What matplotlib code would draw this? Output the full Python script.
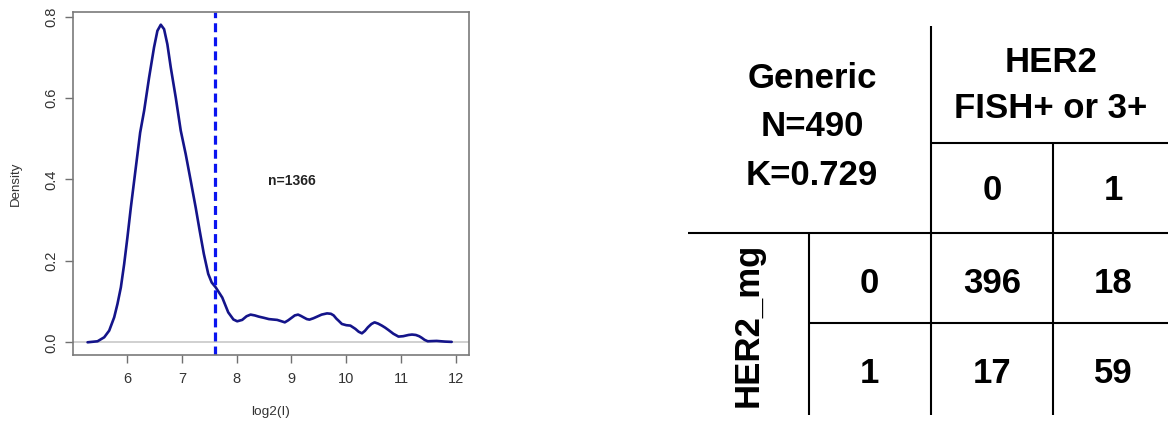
import matplotlib
matplotlib.use("Agg")
import matplotlib.pyplot as plt

# ---- density of log2 intensities ----
log2_i = [5.277, 5.459, 5.581, 5.672, 5.763, 5.823, 5.885, 5.945, 6.005, 6.067,
          6.128, 6.188, 6.237, 6.31, 6.40, 6.49, 6.552, 6.614, 6.674, 6.734,
          6.796, 6.887, 6.978, 7.069, 7.16, 7.251, 7.324, 7.40, 7.48, 7.543,
          7.616, 7.736, 7.845, 7.94, 8.009, 8.10, 8.18, 8.253, 8.33, 8.404,
          8.50, 8.587, 8.66, 8.738, 8.81, 8.878, 8.94, 9.0, 9.06, 9.12,
          9.17, 9.224, 9.28, 9.328, 9.40, 9.467, 9.55, 9.649, 9.72, 9.77,
          9.82, 9.86, 9.92, 10.0, 10.075, 10.166, 10.226, 10.286, 10.34, 10.396,
          10.46, 10.517, 10.58, 10.65, 10.71, 10.772, 10.86, 10.954, 11.04, 11.137,
          11.20, 11.27, 11.33, 11.379, 11.43, 11.488, 11.57, 11.65, 11.73, 11.805,
          11.925]
density = [0.0, 0.0025, 0.0123, 0.0287, 0.0613, 0.0942, 0.135, 0.192, 0.258, 0.331,
           0.397, 0.462, 0.515, 0.569, 0.650, 0.724, 0.765, 0.780, 0.769, 0.732,
           0.675, 0.601, 0.520, 0.462, 0.397, 0.331, 0.274, 0.217, 0.168, 0.147,
           0.135, 0.110, 0.0736, 0.056, 0.0516, 0.055, 0.064, 0.068, 0.066, 0.063,
           0.060, 0.057, 0.056, 0.055, 0.052, 0.049, 0.054, 0.060, 0.066, 0.068,
           0.065, 0.061, 0.057, 0.0557, 0.059, 0.063, 0.068, 0.071, 0.070, 0.066,
           0.058, 0.053, 0.045, 0.042, 0.041, 0.033, 0.026, 0.022, 0.028, 0.037,
           0.045, 0.049, 0.046, 0.041, 0.036, 0.030, 0.021, 0.014, 0.015, 0.018,
           0.019, 0.018, 0.015, 0.011, 0.006, 0.0025, 0.003, 0.0034, 0.0025, 0.0017,
           0.001]
cutoff = 7.6
n_label = "n=1366"
x_ticks = [6, 7, 8, 9, 10, 11, 12]
y_ticks = [0.0, 0.2, 0.4, 0.6, 0.8]

# ---- agreement table ----
table_title = ["Generic", "N=490", "K=0.729"]
col_title = ["HER2", "FISH+ or 3+"]
col_levels = ["0", "1"]
row_title = "HER2_mg"
row_levels = ["0", "1"]
counts = [[396, 18],
          [17, 59]]

W, H = 1168, 423
fig = plt.figure(figsize=(W / 100, H / 100), dpi=100)

ax = fig.add_axes([73 / W, 1 - 355 / H, 396 / W, 343 / H])
ax.plot(log2_i, density, color="#14148a", lw=1.9, solid_joinstyle="round",
        solid_capstyle="round")
ax.axhline(0, color="#c4c4c4", lw=1.1, zorder=0)
ax.axvline(cutoff, color="#0a14f0", lw=2.3, linestyle=(0, (2.8, 1.6)))
ax.text(9.0, 0.397, n_label, ha="center", va="center", fontsize=10,
        fontweight="bold", family="Liberation Sans", color="#222222")

xmin, xmax = min(log2_i), max(log2_i)
dx = (xmax - xmin) * 0.04
ax.set_xlim(xmin - dx, xmax + dx + 0.05)
dy = max(density) * 0.04
ax.set_ylim(-dy, max(density) + dy)

ax.set_xticks(x_ticks)
ax.set_xticklabels([str(t) for t in x_ticks])
ax.set_yticks(y_ticks)
ax.set_yticklabels([f"{t:.1f}" for t in y_ticks], rotation=90, va="center")
for lab in ax.get_xticklabels() + ax.get_yticklabels():
    lab.set_family("Liberation Sans")
    lab.set_fontsize(10.5)
    lab.set_color("#333333")
ax.tick_params(axis="both", direction="out", length=5.5, width=1.0,
               color="#707070")
ax.tick_params(axis="x", pad=6.5)
ax.tick_params(axis="y", pad=5)
for s in ax.spines.values():
    s.set_color("#7a7a7a")
    s.set_linewidth(1.2)

ax.set_xlabel("log2(I)", fontsize=9.7, family="Liberation Sans", color="#333333")
ax.set_ylabel("Density", fontsize=9.5, family="Liberation Sans", color="#333333")
ax.xaxis.set_label_coords(0.5, -0.148)
ax.yaxis.set_label_coords(-0.128, 0.5)

# ---- table drawn in pixel coordinates ----
tb = fig.add_axes([0, 0, 1, 1])
tb.set_xlim(0, W)
tb.set_ylim(H, 0)
tb.axis("off")
tb.patch.set_alpha(0)

col_edges = [688, 809, 931, 1053, W]
row_edges = [26, 143, 233, 323, 415]
line_kw = dict(color="black", lw=1.5, solid_capstyle="butt")

tb.plot([col_edges[2], col_edges[2]], [row_edges[0], row_edges[4]], **line_kw)
tb.plot([col_edges[3], col_edges[3]], [row_edges[1], row_edges[4]], **line_kw)
tb.plot([col_edges[1], col_edges[1]], [row_edges[2], row_edges[4]], **line_kw)
tb.plot([col_edges[2], col_edges[4]], [row_edges[1], row_edges[1]], **line_kw)
tb.plot([col_edges[0], col_edges[4]], [row_edges[2], row_edges[2]], **line_kw)
tb.plot([col_edges[1], col_edges[4]], [row_edges[3], row_edges[3]], **line_kw)

font = dict(family="Liberation Sans", fontweight="bold", fontsize=25,
            color="black")

for text, base in zip(table_title, [88, 136.5, 185]):
    tb.text(812, base, text, ha="center", va="baseline", **font)
for text, base in zip(col_title, [72.5, 118.5]):
    tb.text(1051, base, text, ha="center", va="baseline", **font)

col_centers = [(col_edges[2] + col_edges[3]) / 2, (col_edges[3] + col_edges[4]) / 2 + 3]
row_label_x = (col_edges[1] + col_edges[2]) / 2 - 1
row_bases = [293, 383]
for cx, lev in zip(col_centers, col_levels):
    tb.text(cx, 200, lev, ha="center", va="baseline", **font)
for rb, lev in zip(row_bases, row_levels):
    tb.text(row_label_x, rb, lev, ha="center", va="baseline", **font)
for r, rb in enumerate(row_bases):
    for c, cx in enumerate(col_centers):
        tb.text(cx, rb, str(counts[r][c]), ha="center", va="baseline", **font)

tb.text(758, 325, row_title, rotation=90, rotation_mode="anchor",
        ha="center", va="baseline", **font)

fig.savefig("out.png", dpi=100)
